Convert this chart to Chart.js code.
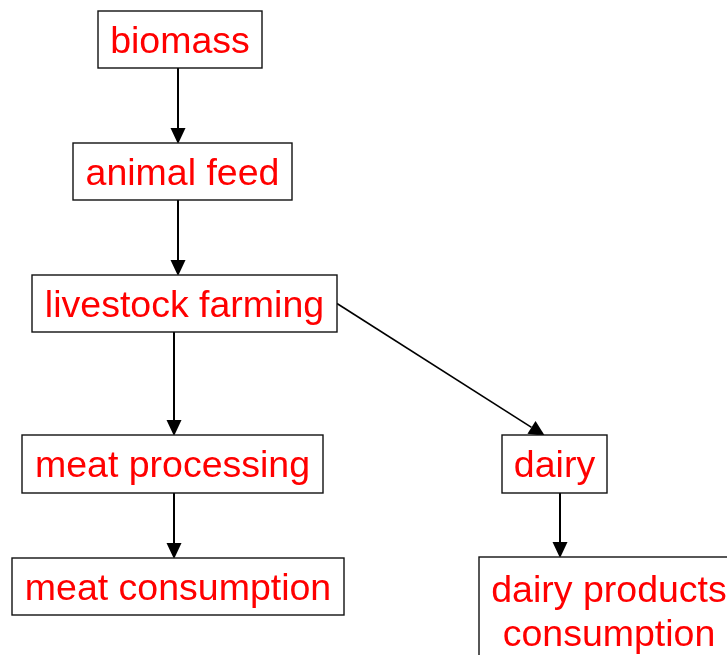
<!DOCTYPE html>
<html>
<head>
<meta charset="utf-8">
<script src="https://cdn.jsdelivr.net/npm/chart.js@4"></script>
<style>
html,body{margin:0;padding:0;background:#fff;overflow:hidden;}
#c{display:block;}
</style>
</head>
<body>
<canvas id="c" width="727" height="655"></canvas>
<script>
// Flowchart nodes (label and centre in diagram units)
const nodeLabels = ["biomass", "animal feed", "livestock farming", "meat processing", "dairy", "meat consumption", "dairy products\nconsumption"];
const nodeX = [180, 182.5, 184.5, 172.5, 554.5, 178, 609];
const nodeY = [39.5, 171.5, 303.5, 464, 464, 586.5, 612];
// Edges (source index -> target index) with anchor x at start and end
const edgeFrom = [0, 1, 2, 3, 2, 4];
const edgeTo   = [1, 2, 3, 5, 4, 6];
const edgeStartX = [178, 178, 174, 174, null, 560];
const edgeEndX   = [178, 178, 174, 174, 545, 560];

// Box layout (styling, kept separate from data)
const boxW = [164, 219, 305, 301, 105, 332, 260];
const boxH = [57, 57, 57, 58, 58, 57, 110];

const flowPlugin = {
  id: 'flow',
  afterDatasetsDraw(chart) {
    const ctx = chart.ctx;
    const xs = chart.scales.x, ys = chart.scales.y;
    const px = v => xs.getPixelForValue(v);
    const py = v => ys.getPixelForValue(v);
    const box = i => {
      const l = px(nodeX[i] - boxW[i] / 2), r = px(nodeX[i] + boxW[i] / 2);
      const t = py(nodeY[i] - boxH[i] / 2), b = py(nodeY[i] + boxH[i] / 2);
      return {l, r, t, b};
    };
    ctx.save();
    // edges
    for (let k = 0; k < edgeFrom.length; k++) {
      const s = box(edgeFrom[k]), d = box(edgeTo[k]);
      let x1, y1;
      if (edgeStartX[k] === null) {
        x1 = s.r; y1 = (s.t + s.b) / 2;
      } else {
        x1 = px(edgeStartX[k]); y1 = s.b;
      }
      const x2 = px(edgeEndX[k]), y2 = d.t + 1;
      const ang = Math.atan2(y2 - y1, x2 - x1);
      const headL = 16, headW = 7.5;
      const bx = x2 - headL * Math.cos(ang), by = y2 - headL * Math.sin(ang);
      ctx.strokeStyle = '#000';
      ctx.lineWidth = edgeStartX[k] === null ? 1.6 : 2;
      ctx.beginPath();
      ctx.moveTo(x1, y1);
      ctx.lineTo(bx, by);
      ctx.stroke();
      ctx.fillStyle = '#000';
      ctx.beginPath();
      ctx.moveTo(x2, y2);
      ctx.lineTo(bx + headW * Math.sin(ang), by - headW * Math.cos(ang));
      ctx.lineTo(bx - headW * Math.sin(ang), by + headW * Math.cos(ang));
      ctx.closePath();
      ctx.fill();
    }
    // boxes
    for (let i = 0; i < nodeLabels.length; i++) {
      const b = box(i);
      ctx.fillStyle = '#fff';
      ctx.fillRect(b.l, b.t, b.r - b.l, b.b - b.t);
      ctx.strokeStyle = '#111';
      ctx.lineWidth = 1.4;
      ctx.strokeRect(b.l, b.t, b.r - b.l, b.b - b.t);
      ctx.fillStyle = '#ff0000';
      ctx.font = '37.5px "Liberation Sans", Arial, sans-serif';
      ctx.textAlign = 'center';
      ctx.textBaseline = 'middle';
      const lines = nodeLabels[i].split('\n');
      const lh = 44;
      const cy = py(nodeY[i]);
      const cx = px(nodeX[i]);
      lines.forEach((ln, j) => {
        const y = lines.length === 1 ? cy + 3 : (b.t + 35 + j * lh);
        ctx.fillText(ln, cx, y);
      });
    }
    ctx.restore();
  }
};

new Chart(document.getElementById('c'), {
  type: 'scatter',
  data: {
    datasets: [{
      label: 'nodes',
      data: nodeLabels.map((n, i) => ({x: nodeX[i], y: nodeY[i]})),
      pointRadius: 0,
      pointHoverRadius: 0
    }]
  },
  options: {
    responsive: false,
    animation: false,
    devicePixelRatio: 1,
    layout: {padding: 0},
    events: [],
    plugins: {legend: {display: false}, tooltip: {enabled: false}, title: {display: false}},
    scales: {
      x: {type: 'linear', min: 0, max: 727, display: false},
      y: {type: 'linear', min: 0, max: 655, reverse: true, display: false}
    }
  },
  plugins: [flowPlugin]
});
</script>
</body>
</html>
